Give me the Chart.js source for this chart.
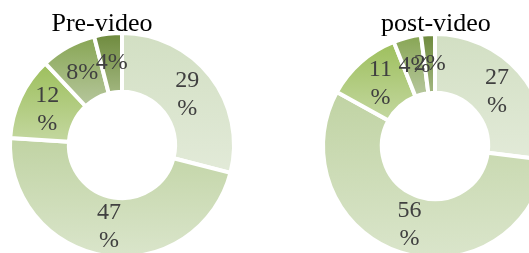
<!DOCTYPE html>
<html>
<head>
<meta charset="utf-8">
<script src="https://cdn.jsdelivr.net/npm/chart.js@4"></script>
<style>
    html, body { margin: 0; padding: 0; background: #fff; }
    body { width: 529px; height: 253px; overflow: hidden; position: relative; }
    .title { position: absolute; top: 10px; width: 200px; text-align: center;
             font-family: "Liberation Serif", "Times New Roman", serif; font-size: 26px;
             line-height: 26px; color: #000; white-space: nowrap; }
    .box { position: absolute; width: 240px; height: 240px; }
</style>
</head>
<body>
<div class="box" style="left:1.5px; top:25px;"><canvas id="preChart"></canvas></div>
<div class="box" style="left:315px; top:26px;"><canvas id="postChart"></canvas></div>
<div class="title" style="left:2px;">Pre-video</div>
<div class="title" style="left:336px;">post-video</div>
<script>
const categories = ["1", "2", "3", "4", "5"];
const pre_values = [29, 47, 12, 8, 4];
const post_values = [27, 56, 11, 4, 2];

// gradient stops per slice, top -> bottom
const top_colors = ["#d2dfc3", "#c0d3a3", "#9dbf5c", "#87a553", "#6e8a3d"];
const bottom_colors = ["#e2eAd8", "#dae5cb", "#c3d79f", "#b5c69b", "#9fb47c"];

const outer_r = 112;
const inner_r = 56;

const slice_gradient = (c) => {
    const chart = c.chart;
    const area = chart.chartArea;
    const i = c.dataIndex;
    if (!area) return top_colors[i];
    const values = chart.data.datasets[0].data;
    const total = values.reduce((a, b) => a + b, 0);
    const before = values.slice(0, i).reduce((a, b) => a + b, 0);
    const a0 = -Math.PI / 2 + before / total * Math.PI * 2;
    const a1 = -Math.PI / 2 + (before + values[i]) / total * Math.PI * 2;
    const cy = (area.top + area.bottom) / 2;
    let ymin = Infinity, ymax = -Infinity;
    for (let k = 0; k <= 60; k++) {
        const a = a0 + (a1 - a0) * k / 60;
        for (const r of [inner_r, outer_r]) {
            const y = cy + r * Math.sin(a);
            ymin = Math.min(ymin, y);
            ymax = Math.max(ymax, y);
        }
    }
    const g = chart.ctx.createLinearGradient(0, ymin, 0, ymax);
    g.addColorStop(0, top_colors[i]);
    g.addColorStop(1, bottom_colors[i]);
    return g;
};

const slice_labels = {
    id: "sliceLabels",
    afterDatasetsDraw(chart) {
        const ctx = chart.ctx;
        const values = chart.data.datasets[0].data;
        ctx.save();
        ctx.font = "24px 'Liberation Serif', 'Times New Roman', serif";
        ctx.fillStyle = "#404040";
        ctx.textAlign = "center";
        ctx.textBaseline = "middle";
        chart.getDatasetMeta(0).data.forEach((arc, i) => {
            const p = arc.getCenterPoint();
            const v = values[i];
            if (v >= 10) {
                ctx.fillText(String(v), p.x, p.y - 14);
                ctx.fillText("%", p.x, p.y + 14);
            } else {
                ctx.fillText(v + "%", p.x, p.y);
            }
        });
        ctx.restore();
    }
};

const make_chart = (id, values) => {
    new Chart(document.getElementById(id), {
        type: "doughnut",
        data: {
            labels: categories,
            datasets: [{
                data: values,
                backgroundColor: slice_gradient,
                borderColor: "#ffffff",
                borderWidth: 4,
            }]
        },
        options: {
            responsive: true,
            maintainAspectRatio: false,
            animation: false,
            radius: outer_r,
            cutout: inner_r,
            plugins: {
                legend: { display: false },
                tooltip: { enabled: false },
            }
        },
        plugins: [slice_labels]
    });
}

make_chart("preChart", pre_values);
make_chart("postChart", post_values);
</script>
</body>
</html>
